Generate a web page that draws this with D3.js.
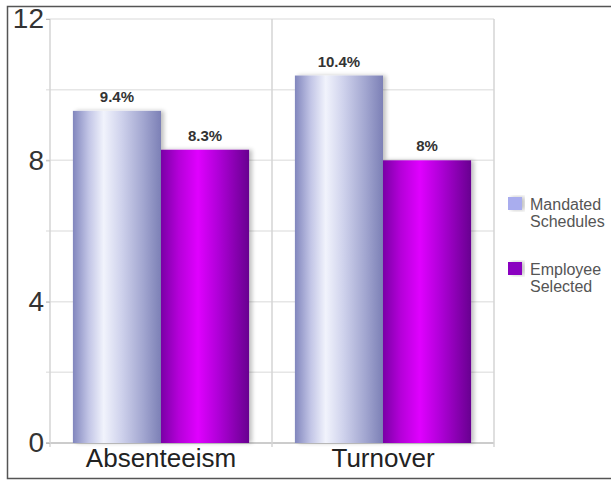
<!DOCTYPE html>
<html>
<head>
<meta charset="utf-8">
<script src="https://cdn.jsdelivr.net/npm/d3@7"></script>
<style>
  body { margin: 0; background: #fff; }
  svg { display: block; font-family: 'Liberation Sans', Arial, sans-serif; }
</style>
</head>
<body>
<div id="chart"></div>
<script>
// datos del gráfico
const categories = ['Absenteeism', 'Turnover'];
const seriesNames = ['Mandated Schedules', 'Employee Selected'];
const mandated = [9.4, 10.4];
const employee = [8.3, 8];
const valueLabels = [['9.4%', '8.3%'], ['10.4%', '8%']];
const yTicks = [0, 4, 8, 12];
const yGrid = [0, 2, 4, 6, 8, 10, 12];

const W = 611, H = 480;
const plot = { left: 50, right: 494, top: 19, bottom: 443 };

const svg = d3.select('#chart').append('svg').attr('width', W).attr('height', H);
const defs = svg.append('defs');

// degradados de las barras
const grad = (id, stops) => {
  const g = defs.append('linearGradient').attr('id', id)
    .attr('x1', '0%').attr('x2', '100%').attr('y1', '0%').attr('y2', '0%');
  stops.forEach(([o, c]) => g.append('stop').attr('offset', o).attr('stop-color', c));
};
grad('gMand', [['0%', '#8186bd'], ['18%', '#c2c5e6'], ['35%', '#f1f3fc'], ['55%', '#cfd2ec'], ['80%', '#a2a6d0'], ['100%', '#7c80b6']]);
grad('gEmp', [['0%', '#7a00a6'], ['20%', '#b400d8'], ['42%', '#e000ff'], ['65%', '#b000d8'], ['100%', '#680090']]);
const colors = ['url(#gMand)', 'url(#gEmp)'];
const legendColors = ['#a9adee', '#8a00c0'];

const filt = defs.append('filter').attr('id', 'shadow').attr('x', '-10%').attr('width', '130%');
filt.append('feGaussianBlur').attr('in', 'SourceAlpha').attr('stdDeviation', 2);
filt.append('feOffset').attr('dx', 3).attr('dy', 0).attr('result', 'b');
filt.append('feComponentTransfer').append('feFuncA').attr('type', 'linear').attr('slope', 0.25);
const fm = filt.append('feMerge');
fm.append('feMergeNode');
fm.append('feMergeNode').attr('in', 'SourceGraphic');

// escalas
const x0 = d3.scaleBand().domain(categories).range([plot.left, plot.right]).paddingInner(0).paddingOuter(0);
const x1 = d3.scaleBand().domain(seriesNames).range([0, x0.bandwidth()]).paddingOuter(0.26);
const y = d3.scaleLinear().domain([0, 12]).range([plot.bottom, plot.top]);

// marco exterior
svg.append('path').attr('d', `M${W},6.5 H7.5 V478.5 H${W}`)
  .attr('fill', 'none').attr('stroke', '#555').attr('stroke-width', 1.5);

// grilla horizontal
svg.append('g').selectAll('line').data(yGrid).join('line')
  .attr('x1', plot.left - 4).attr('x2', plot.right)
  .attr('y1', d => y(d)).attr('y2', d => y(d))
  .attr('stroke', d => d === 0 ? '#bbb' : '#e6e6e6').attr('stroke-width', 1.5);

// grilla vertical
const vLines = [plot.left, plot.right].concat(categories.slice(1).map(c => x0(c)));
svg.append('g').selectAll('line').data(vLines).join('line')
  .attr('x1', d => d).attr('x2', d => d)
  .attr('y1', plot.top).attr('y2', plot.bottom + 4)
  .attr('stroke', '#d4d4d4').attr('stroke-width', 1.5);

// eje y
const yAxis = svg.append('g').attr('transform', `translate(${plot.left},0)`)
  .call(d3.axisLeft(y).tickValues(yTicks).tickSize(4).tickPadding(2));
yAxis.select('.domain').remove();
yAxis.selectAll('line').attr('stroke', '#bbb');
yAxis.selectAll('text').attr('font-size', 28).attr('fill', '#333');

// eje x
const xAxis = svg.append('g').attr('transform', `translate(0,${plot.bottom})`)
  .call(d3.axisBottom(x0).tickSize(0).tickPadding(4));
xAxis.select('.domain').remove();
xAxis.selectAll('text').attr('font-size', 26).attr('fill', '#222').attr('dy', '0.75em');

// barras
const groups = svg.append('g').selectAll('g').data(categories).join('g')
  .attr('transform', c => `translate(${x0(c)},0)`);

groups.each(function (c, i) {
  const vals = [mandated[i], employee[i]];
  const g = d3.select(this);
  g.selectAll('rect').data(vals).join('rect')
    .attr('x', (d, j) => x1(seriesNames[j]))
    .attr('width', x1.bandwidth())
    .attr('y', d => y(d))
    .attr('height', d => y(0) - y(d))
    .attr('fill', (d, j) => colors[j])
    .attr('filter', 'url(#shadow)');
  g.selectAll('text').data(vals).join('text')
    .attr('x', (d, j) => x1(seriesNames[j]) + x1.bandwidth() / 2)
    .attr('y', d => y(d) - 9)
    .attr('text-anchor', 'middle')
    .attr('font-size', 15).attr('font-weight', 'bold').attr('fill', '#333')
    .text((d, j) => valueLabels[i][j]);
});

// leyenda
const legend = svg.append('g').attr('transform', 'translate(508,197)');
seriesNames.forEach((s, i) => {
  const lg = legend.append('g').attr('transform', `translate(0,${i * 65})`);
  lg.append('rect').attr('width', 14).attr('height', 13).attr('fill', legendColors[i])
    .attr('filter', 'url(#shadow)');
  const words = s.split(' ');
  lg.append('text').attr('y', 13).attr('font-size', 16).attr('fill', '#555')
    .selectAll('tspan').data(words).join('tspan')
    .attr('x', 22).attr('dy', (d, k) => k === 0 ? 0 : 17).text(d => d);
});
</script>
</body>
</html>
